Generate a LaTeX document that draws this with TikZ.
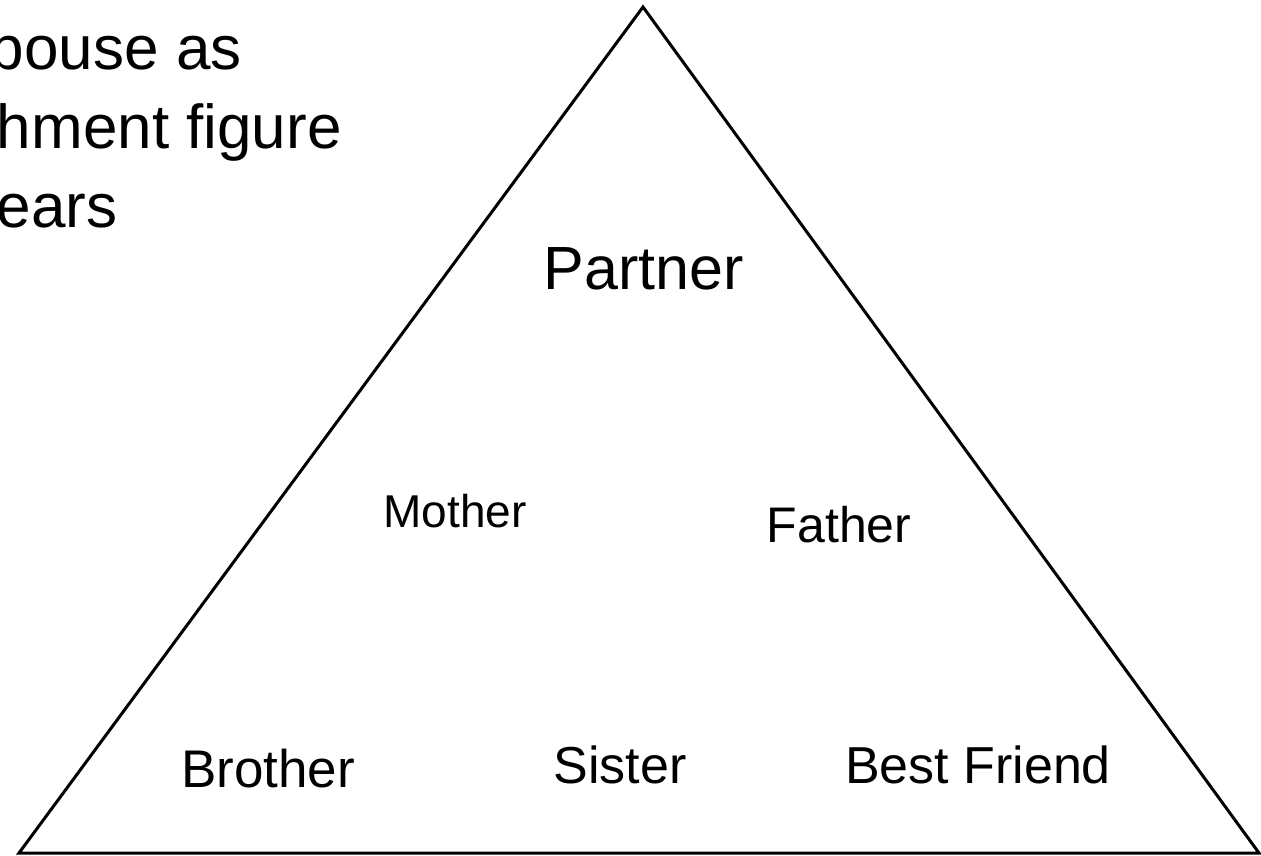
\documentclass[tikz,border=0pt]{standalone}
\usepackage{fontspec}
\setmainfont{Liberation Sans}
\begin{document}
\begin{tikzpicture}[x=1pt,y=-1pt,
  lbl/.style={inner sep=0pt, outer sep=0pt, anchor=base},
  corner/.style={inner sep=0pt, outer sep=0pt, anchor=base west, font=\fontsize{62}{78}\selectfont},
  tri/.style={line width=3pt, line join=miter, black}]
\useasboundingbox (0,0) rectangle (1261,856);
\coordinate (apex) at (643,7);
\coordinate (bl) at (19,853);
\coordinate (br) at (1259,853);
\draw[tri] (apex) -- (bl) -- (br) -- cycle;
\node[corner] (t1) at (-10,70) {pouse as};
\node[corner] (t2) at (-3,149) {hment figure};
\node[corner] (t3) at (-3,227) {ears};
\node[lbl, font=\fontsize{61}{72}\selectfont] (partner) at (644,289) {Partner};
\node[lbl, font=\fontsize{46}{54}\selectfont] (mother) at (455,527) {Mother};
\node[lbl, font=\fontsize{50}{58}\selectfont] (father) at (839,542) {Father};
\node[lbl, font=\fontsize{53}{62}\selectfont] (brother) at (268,787) {Brother};
\node[lbl, font=\fontsize{52}{62}\selectfont] (sister) at (620,783) {Sister};
\node[lbl, font=\fontsize{52}{62}\selectfont] (friend) at (978,783) {Best Friend};
\end{tikzpicture}
\end{document}
